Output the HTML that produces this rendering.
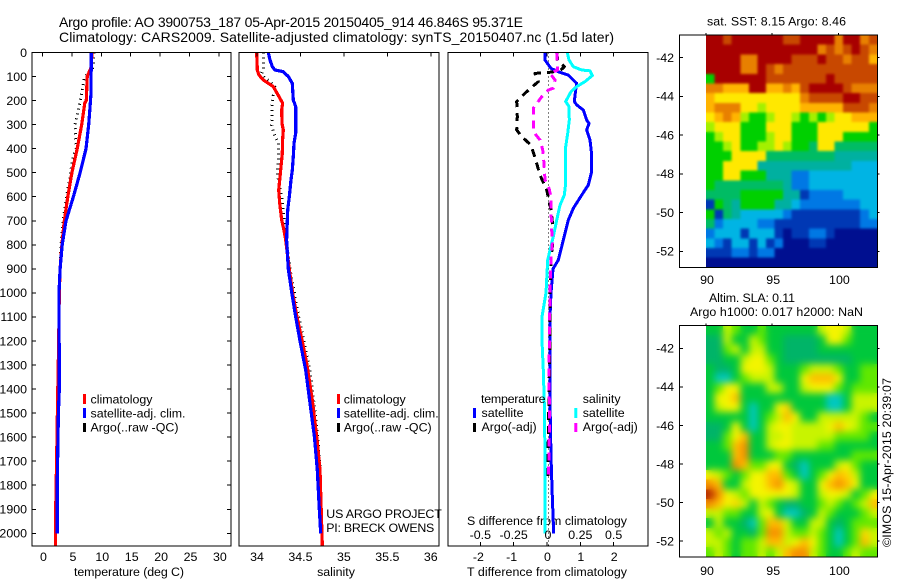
<!DOCTYPE html>
<html>
<head>
<meta charset="utf-8">
<title>Argo profile</title>
<style>
html,body{margin:0;padding:0;background:#fff;width:900px;height:580px;overflow:hidden}
svg{display:block}
text{font-family:"Liberation Sans",sans-serif;font-size:12.4px;fill:#000}
.big{font-size:14px}
.m{text-anchor:middle}
.e{text-anchor:end}
</style>
</head>
<body>
<svg id="fig" xmlns="http://www.w3.org/2000/svg" width="900" height="580" viewBox="0 0 900 580">
<defs>
<filter id="blur-sst" filterUnits="userSpaceOnUse" x="690" y="20" width="200" height="260" color-interpolation-filters="sRGB">
<feGaussianBlur in="SourceGraphic" stdDeviation="1.2" result="b"/>
<feMerge><feMergeNode in="SourceGraphic"/><feMergeNode in="b"/></feMerge>
</filter>
<filter id="blur-sla" filterUnits="userSpaceOnUse" x="690" y="310" width="200" height="260" color-interpolation-filters="sRGB">
<feGaussianBlur in="SourceGraphic" stdDeviation="3.6" result="b"/>
<feMerge><feMergeNode in="SourceGraphic"/><feMergeNode in="b"/></feMerge>
</filter>
<clipPath id="clip-sst"><rect x="706" y="35" width="171.500" height="232.500"/></clipPath>
<clipPath id="clip-sla"><rect x="706" y="325.500" width="171.500" height="231.500"/></clipPath>
</defs>
<rect x="0" y="0" width="900" height="580" fill="#fff"/>
<text class="big" x="59" y="27" textLength="464">Argo profile: AO 3900753_187 05-Apr-2015 20150405_914 46.846S 95.371E</text>
<text class="big" x="59" y="42" textLength="555">Climatology: CARS2009. Satellite-adjusted climatology: synTS_20150407.nc (1.5d later)</text>

<text x="74" y="576" textLength="110">temperature (deg C)</text>
<text class="m" x="336" y="576">salinity</text>
<text x="467" y="576" textLength="160">T difference from climatology</text>
<text x="467" y="525" textLength="160">S difference from climatology</text>

<text x="707" y="25.500" textLength="139">sat. SST: 8.15 Argo: 8.46</text>
<text x="709" y="302" textLength="86">Altim. SLA: 0.11</text>
<text x="690" y="316" textLength="173">Argo h1000: 0.017 h2000: NaN</text>
<text transform="translate(891,547) rotate(-90)" textLength="169">©IMOS 15-Apr-2015 20:39:07</text>

<g id="layer-maps"></g>
<g id="layer-series"></g>
<g id="layer-axes"></g>

<text x="326.300" y="518" textLength="115.500">US ARGO PROJECT</text>
<text x="326.300" y="532" textLength="108">PI: BRECK OWENS</text>

<g>
<rect x="83" y="394" width="3" height="10" fill="#f00"/>
<text x="90.500" y="403.500" textLength="62">climatology</text>
<rect x="83" y="408" width="3" height="10" fill="#00f"/>
<text x="90.500" y="417.500" textLength="95">satellite-adj. clim.</text>
<rect x="83" y="423" width="3" height="9" fill="#000"/>
<text x="90.500" y="431.500" textLength="88">Argo(..raw -QC)</text>
</g>
<g>
<rect x="337" y="394" width="3" height="10" fill="#f00"/>
<text x="343.700" y="403.500" textLength="62">climatology</text>
<rect x="337" y="408" width="3" height="10" fill="#00f"/>
<text x="343.700" y="417.500" textLength="95">satellite-adj. clim.</text>
<rect x="337" y="423" width="3" height="9" fill="#000"/>
<text x="343.700" y="431.500" textLength="88">Argo(..raw -QC)</text>
</g>
<g>
<text x="481" y="403" textLength="64.500">temperature</text>
<text x="582.700" y="403">salinity</text>
<rect x="473" y="408" width="3" height="10" fill="#00f"/>
<text x="481.500" y="417">satellite</text>
<rect x="473" y="423" width="3" height="9" fill="#000"/>
<text x="481.500" y="431">Argo(-adj)</text>
<rect x="574.300" y="408" width="3" height="10" fill="#0ff"/>
<text x="582.700" y="417">satellite</text>
<rect x="574.300" y="423" width="3" height="9" fill="#f0f"/>
<text x="582.700" y="431">Argo(-adj)</text>
</g>
</svg>

<script>
// ---- tick labels ----
const depthTicks = [0,100,200,300,400,500,600,700,800,900,1000,1100,1200,1300,1400,1500,1600,1700,1800,1900,2000];
const tempTicks = [0,5,10,15,20,25,30];
const salTicks = [34,34.5,35,35.5,36];
const diffTTicks = [-2,-1,0,1,2];
const diffSTicks = [-0.5,-0.25,0,0.25,0.5];
const lonTicks = [90,95,100];
const latTicks = [-42,-44,-46,-48,-50,-52];

// ---- temperature panel ----
const climTDepth = [0,60,100,200,210,300,400,500,600,700,800,900,1000,1200,1400,1700,1900,2050];
const climT = [8.4,8.3,7.6,7.45,7.2,6.67,5.9,5.0,4.3,3.7,3.3,3.0,2.85,2.75,2.6,2.4,2.25,2.2];
const satTDepth = [0,170,240,300,400,500,600,700,800,900,1000,1400,1500,1800,2000];
const satT = [8.3,8.25,8.05,7.85,7.4,6.4,5.25,4.0,3.35,3.0,2.8,2.85,2.7,2.5,2.5];
const argoTDepth = [0,60,100,200,300,400,450,500,600,700,800,1000,1200,1400,1750];
const argoT = [8.75,8.65,7.2,6.4,5.55,5.7,5.05,4.8,4.1,3.5,3.15,2.85,2.75,2.6,2.4];

// ---- salinity panel ----
const climSDepth = [0,73,94,114,142,191,211,239,295,322,364,419,475,530,572,627,697,738,780,900,1000,1100,1200,1300,1445,1598,1736,1875,2050];
const climS = [33.996,34.004,34.023,34.073,34.188,34.265,34.295,34.284,34.288,34.303,34.295,34.291,34.276,34.261,34.25,34.261,34.284,34.31,34.33,34.37,34.41,34.46,34.52,34.575,34.636,34.687,34.725,34.737,34.752];
const satSDepth = [0,31,59,73,80,100,128,198,225,336,378,433,489,530,600,655,780,900,1000,1100,1200,1321,1459,1598,1736,1875,2000];
const satS = [34.13,34.15,34.176,34.207,34.303,34.36,34.406,34.418,34.445,34.445,34.426,34.418,34.406,34.391,34.372,34.353,34.341,34.36,34.4,34.445,34.495,34.56,34.61,34.66,34.694,34.714,34.733];
const argoSDepth = [0,31,70,87,107,121,149,177,225,267,302,329,378,447,503,544,600,655,697,752,900,1100,1321,1459,1598,1750];
const argoS = [34.073,34.073,34.073,34.053,34.092,34.15,34.226,34.188,34.169,34.176,34.169,34.188,34.246,34.246,34.234,34.253,34.284,34.303,34.315,34.33,34.38,34.48,34.61,34.656,34.698,34.73];

// ---- difference panel ----
const diffSatTDepth = [0,31,66,80,94,128,156,204,218,239,281,295,322,364,426,496,551,593,648,697,752,808,863,900,1000,1100,1321,1459,1681,1847,2000];
const diffSatT = [-0.06,-0.06,0.12,0.34,0.64,0.89,0.86,0.82,0.89,1.09,1.19,1.26,1.19,1.29,1.34,1.34,1.24,1.04,0.79,0.64,0.54,0.44,0.34,0.18,0.12,0.09,0.09,0.09,0.12,0.16,0.2];
const diffSatSDepth = [0,31,59,73,76,96,121,142,163,204,225,281,336,392,475,544,593,635,697,766,822,863,1000,1100,1200,1321,1459,1681,1847,2000];
const diffSatS = [0.1525,0.165,0.1975,0.26,0.3225,0.34,0.285,0.2225,0.18,0.14,0.165,0.1675,0.155,0.14,0.14,0.14,0.13,0.0975,0.0725,0.0475,0.0225,0.005,-0.0075,-0.0375,-0.0375,-0.0275,-0.02,-0.015,-0.015,-0.015];
const diffArgoTDepth = [0,31,59,76,83,87,121,163,204,267,322,350,385,447,510,572,655,738,794,856,1000,1200,1400,1780];
const diffArgoT = [0.29,0.32,0.52,0.39,0.04,-0.36,-0.26,-0.61,-0.91,-0.89,-0.91,-0.76,-0.48,-0.34,-0.21,-0.01,0.12,0.19,0.17,0.12,0.09,0.09,0.06,0.02];
const diffArgoSDepth = [0,73,87,114,149,156,184,204,232,329,364,405,461,530,565,600,655,738,794,856,1000,1321,1459,1600,1780];
const diffArgoS = [0.0725,0.08,0.0225,0.06,0.0475,0.01,-0.04,-0.065,-0.1025,-0.1025,-0.0525,-0.0325,-0.0225,-0.015,0.015,0.03,0.03,0.035,0.04,0.03,0.0225,0.015,0.0175,0.0175,0.01];

// ---- heatmap cells: colour-scale level per cell, north row first, 90E column first ----
const sstLevels = [
[12,12,11,12,12,12,12,12,12,11,11,12,12,12,12,10,12,12,10,11],
[12,12,12,12,12,12,12,12,12,12,12,12,12,10,11,10,11,12,11,10],
[12,12,12,12,10,10,12,12,12,12,11,11,11,12,11,11,10,11,11,9],
[12,12,12,12,10,10,12,11,10,11,11,11,11,11,11,11,11,11,11,11],
[6,12,12,12,12,12,12,11,11,11,11,11,11,11,12,11,11,11,11,11],
[10,10,9,9,9,12,12,9,9,10,9,11,12,12,12,12,11,10,10,10],
[9,8,8,8,8,8,8,8,8,8,8,10,11,11,11,11,12,12,11,11],
[9,10,10,10,8,8,7,8,8,8,8,9,9,9,9,9,11,11,11,10],
[8,9,10,9,7,6,6,7,8,8,7,6,7,6,7,8,8,9,9,9],
[7,8,8,8,6,6,6,8,8,8,6,6,6,8,8,8,8,8,8,6],
[6,7,8,8,6,6,6,7,8,8,6,6,6,8,8,8,6,6,6,6],
[6,6,7,8,6,6,7,7,8,7,6,6,5,8,8,5,5,5,5,5],
[6,6,6,8,8,8,8,5,5,5,5,5,5,5,5,4,4,4,4,4],
[6,6,8,8,8,8,4,4,4,4,4,4,4,4,4,4,4,3,3,3],
[6,6,8,8,6,6,6,4,4,4,2,2,3,3,3,3,3,3,3,3],
[6,5,5,5,5,5,5,5,5,4,2,2,3,3,3,3,3,3,3,3],
[5,5,5,5,6,6,6,6,6,4,4,1,2,2,2,2,3,3,3,3],
[1,6,5,4,6,6,6,6,4,4,3,2,2,2,2,2,2,2,3,3],
[6,1,5,4,3,3,3,3,3,2,1,1,1,1,1,1,1,1,2,3],
[5,2,3,3,3,3,2,2,1,1,1,1,1,1,1,1,1,1,2,2],
[2,3,3,3,1,3,3,3,1,0,1,1,2,2,1,0,0,0,0,0],
[3,2,1,3,3,1,3,1,2,0,0,0,1,1,0,0,0,0,0,0],
[1,1,1,2,2,1,2,2,0,0,0,0,0,0,0,0,0,0,0,0],
[0,0,0,0,0,0,0,0,0,0,0,0,0,0,0,0,0,0,0,0]
];
const slaLevels = [
[2,2,4,3,2,2,3,2,2,2,2,2,2,4,5,5,4,2,2,2],
[1,1,4,2,2,4,3,2,2,1,1,1,1,2,5,5,3,2,2,2],
[1,1,3,4,2,4,4,2,2,1,1,1,1,2,2,2,2,2,2,2],
[1,1,2,2,4,5,5,3,2,1,1,1,1,1,1,1,1,2,2,2],
[2,1,1,2,5,5,5,4,2,2,2,3,4,4,4,3,2,2,3,3],
[2,0,0,2,3,4,4,4,2,2,2,5,7,7,7,5,2,2,3,3],
[2,3,5,5,2,2,2,4,4,2,2,4,5,5,5,3,2,3,3,3],
[2,5,5,7,2,2,2,2,2,2,2,2,2,2,0,0,2,4,4,4],
[2,4,5,5,2,0,2,2,5,6,2,2,2,2,0,0,2,4,4,4],
[2,2,2,2,2,0,2,3,4,7,5,2,2,4,4,4,4,4,3,2],
[1,1,2,5,2,0,2,4,5,5,4,4,4,4,5,7,5,4,3,3],
[1,1,3,5,7,2,2,4,4,5,4,4,4,4,4,3,3,3,3,2],
[2,2,3,7,8,2,2,4,5,5,4,4,4,3,3,2,2,2,2,2],
[2,2,2,7,8,2,2,2,3,3,2,2,2,2,2,2,2,3,3,3],
[2,2,2,8,7,3,3,5,5,2,1,0,2,2,2,4,5,3,2,2],
[5,4,3,2,3,5,5,7,7,3,2,0,2,3,5,7,6,4,2,2],
[8,7,2,2,4,5,5,7,8,5,4,2,2,5,7,8,7,5,2,2],
[9,8,5,4,3,5,5,5,5,5,4,2,2,4,5,5,4,2,3,5],
[8,7,5,6,4,2,4,3,2,1,1,2,2,3,4,3,2,3,4,7],
[4,4,3,3,2,2,4,5,2,0,0,1,2,4,3,2,2,2,3,4],
[2,4,2,2,1,0,3,7,7,4,2,2,4,4,2,1,2,3,3,3],
[4,3,4,2,2,1,3,8,8,4,3,3,4,3,2,0,2,3,6,4],
[4,4,3,2,3,3,4,7,7,4,5,7,5,3,2,0,2,3,7,4],
[3,4,3,2,3,3,4,3,4,7,8,8,4,3,2,2,3,4,3,3]
];
const sstColours = ['#000f90','#0038b4','#0078e4','#00b4e4','#00b0a0','#00bc64','#00d000','#a4f000','#ffe800','#ffb400','#e88000','#c84800','#a80000'];
const slaColours = ['#00c8c0','#00b468','#00c83c','#60e800','#c8f400','#f4f400','#ffd800','#ffbc00','#f59000','#b42800'];

// ---- axis functions ----
const yDepth = d => 52.5 + 0.2404 * d;
const xTemp = v => 42.5 + 5.88 * v;
const xSal = v => 257 + 86.9 * (v - 34);
const xDiffT = v => 547 + 33.33 * v;
const xDiffS = v => 547 + 133.3 * v;
const xLon = lon => 706 + 13.24 * (lon - 90);
const ySst = lat => 57.7 + 19.36 * (-42 - lat);
const ySla = lat => 348.3 + 19.29 * (-42 - lat);

const NS = 'http://www.w3.org/2000/svg';
const series = document.getElementById('layer-series');
const axes = document.getElementById('layer-axes');
const maps = document.getElementById('layer-maps');

function make(parent, tag, props) {
  const el = document.createElementNS(NS, tag);
  for (const k in props) el.setAttribute(k, props[k]);
  parent.appendChild(el);
  return el;
}
function tickLine(x1, y1, x2, y2) {
  const el = make(axes, 'line', {x1, y1, x2, y2, stroke: '#000', 'stroke-width': 1, 'shape-rendering': 'crispEdges'});
  
  
}
function label(txt, x, y, cls) {
  const el = make(axes, 'text', {x, y, class: cls});
  el.textContent = txt;
  
  
}
function frame(x, y, w, h, name) {
  const el = make(axes, 'rect', {x, y, width: w, height: h, fill: 'none', stroke: '#000', 'stroke-width': 1, 'shape-rendering': 'crispEdges'});
  
  
}
function profile(depths, values, xf, colour, width, dash, name) {
  const pts = depths.map((d, i) => xf(values[i]).toFixed(1) + ',' + yDepth(d).toFixed(1)).join(' ');
  const el = make(series, 'polyline', {points: pts, fill: 'none', stroke: colour, 'stroke-width': width, 'shape-rendering': 'crispEdges', 'stroke-linejoin': 'round'});
  if (dash) el.setAttribute('stroke-dasharray', dash);
  
  
}
function heatmap(levels, colours, yf, latTop, name, clipId, filterId) {
  const outer = make(maps, 'g', {'clip-path': 'url(#' + clipId + ')'});
  
  
  const inner = make(outer, 'g', {filter: 'url(#' + filterId + ')'});
  
  
  const dLon = 0.647, dLat = 0.5;
  levels.forEach((row, r) => row.forEach((lvl, c) => {
    const x0 = xLon(90 + c * dLon), x1 = xLon(90 + (c + 1) * dLon);
    const y0 = yf(latTop - r * dLat), y1 = yf(latTop - (r + 1) * dLat);
    const el = make(inner, 'rect', {x: x0.toFixed(2), y: y0.toFixed(2), width: (x1 - x0 + 0.6).toFixed(2), height: (y1 - y0 + 0.6).toFixed(2), fill: colours[lvl], 'shape-rendering': 'crispEdges'});
    
    
  }));
}

// ---- heatmaps ----
heatmap(sstLevels, sstColours, ySst, -40.83, 'sst-cell', 'clip-sst', 'blur-sst');
heatmap(slaLevels, slaColours, ySla, -40.81, 'sla-cell', 'clip-sla', 'blur-sla');

// ---- series ----
profile(argoTDepth, argoT, xTemp, '#000', 3, '1 4', 'argo-temperature-line');
profile(climTDepth, climT, xTemp, '#f00', 3.2, '', 'climatology-temperature-line');
profile(satTDepth, satT, xTemp, '#00f', 3.2, '', 'satellite-temperature-line');

profile(argoSDepth, argoS, xSal, '#000', 3, '1 4', 'argo-salinity-line');
profile(climSDepth, climS, xSal, '#f00', 3.2, '', 'climatology-salinity-line');
profile(satSDepth, satS, xSal, '#00f', 3.2, '', 'satellite-salinity-line');

const zeroLine = make(series, 'line', {x1: xDiffT(0) + 1.7, x2: xDiffT(0) + 1.7, y1: yDepth(0), y2: 546, stroke: '#000', 'stroke-width': 1, 'stroke-dasharray': '1 3', 'shape-rendering': 'crispEdges'});


profile(diffSatTDepth, diffSatT, xDiffT, '#00f', 3, '', 'satellite-t-difference-line');
profile(diffArgoTDepth, diffArgoT, xDiffT, '#000', 3, '8 6', 'argo-t-difference-line');
profile(diffSatSDepth, diffSatS, xDiffS, '#0ff', 3, '', 'satellite-s-difference-line');
profile(diffArgoSDepth, diffArgoS, xDiffS, '#f0f', 3, '8 6', 'argo-s-difference-line');

// ---- axes ----
frame(32, 52.5, 199, 493.5, 'temperature-axes-frame');
frame(239, 52.5, 200, 493.5, 'salinity-axes-frame');
frame(448, 52.5, 200, 493.5, 'difference-axes-frame');

depthTicks.forEach(d => {
  tickLine(32, yDepth(d), 36, yDepth(d));
  tickLine(227, yDepth(d), 231, yDepth(d));
  label(String(d), 27, yDepth(d) + 4.3, 'e');
});
tempTicks.forEach(v => {
  tickLine(xTemp(v), 52.5, xTemp(v), 56.5);
  label(String(v), xTemp(v) + 1, 561, 'm');
});
salTicks.forEach(v => {
  tickLine(xSal(v), 52.5, xSal(v), 56.5);
  label(String(v), xSal(v), 561, 'm');
});
diffTTicks.forEach(v => {
  tickLine(xDiffT(v), 52.5, xDiffT(v), 56.5);
  label(String(v), xDiffT(v) - (v < 0 ? 2 : -0.5), 561, 'm');
});
diffSTicks.forEach(v => {
  tickLine(xDiffS(v), 546, xDiffS(v), 542);
  label(String(v), xDiffS(v) + (v === 0 ? 1 : 0), 539, 'm');
});

frame(679.5, 35, 198, 232.5, 'sst-map-frame');
frame(679.5, 325.5, 198, 231.5, 'sla-map-frame');
lonTicks.forEach(v => {
  tickLine(xLon(v), 33, xLon(v), 35);
  tickLine(xLon(v), 323.5, xLon(v), 325.5);
  label(String(v), xLon(v) + 1, 284, 'm');
  label(String(v), xLon(v) + 1, 575, 'm');
});
latTicks.forEach(v => {
  tickLine(679.5, ySst(v), 683, ySst(v));
  tickLine(877.5, ySst(v), 879.5, ySst(v));
  tickLine(679.5, ySla(v), 683, ySla(v));
  tickLine(877.5, ySla(v), 879.5, ySla(v));
  label(String(v), 674, ySst(v) + 4.3, 'e');
  label(String(v), 674, ySla(v) + 4.3, 'e');
});
</script>
</body>
</html>
